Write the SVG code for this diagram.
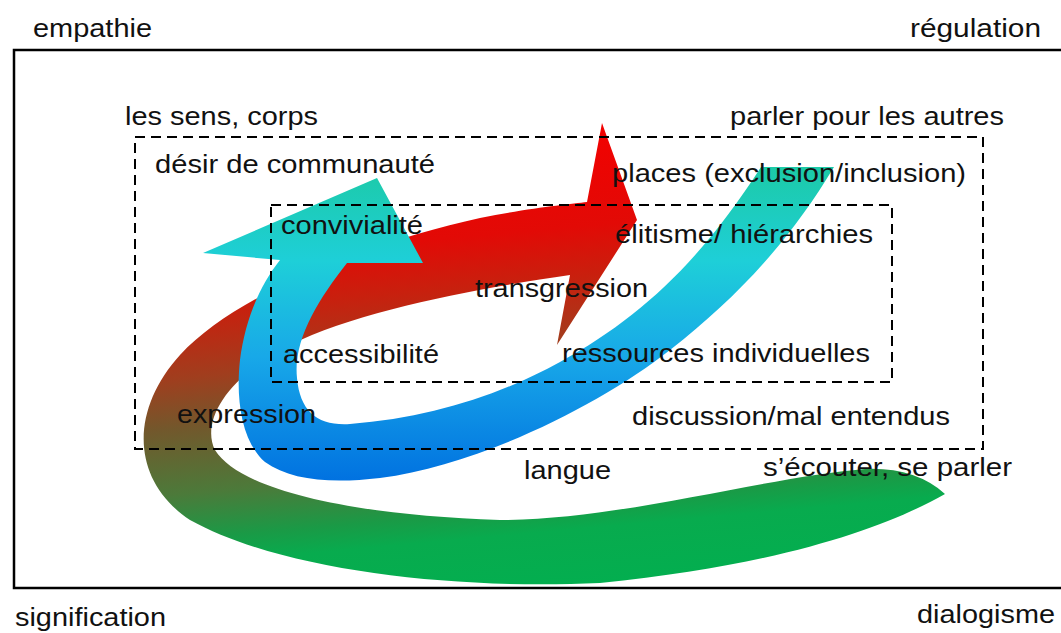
<svg xmlns="http://www.w3.org/2000/svg" width="1061" height="633" viewBox="0 0 1061 633">
<style>
text{font-family:"Liberation Sans",Arial,sans-serif;font-size:25px;fill:#111}
.box{fill:none;stroke:#000;stroke-width:2;stroke-dasharray:10 6}
.frame{fill:none;stroke:#000;stroke-width:2.5}
</style>
<defs>
<linearGradient id="gRed" gradientUnits="userSpaceOnUse" x1="530" y1="120" x2="575" y2="620">
<stop offset="0" stop-color="#f40000"/>
<stop offset="0.22" stop-color="#e20a06"/>
<stop offset="0.32" stop-color="#c8200e"/>
<stop offset="0.45" stop-color="#a03e1e"/>
<stop offset="0.55" stop-color="#72582c"/>
<stop offset="0.68" stop-color="#4c7a3a"/>
<stop offset="0.77" stop-color="#1a9a46"/>
<stop offset="0.82" stop-color="#08ab4e"/>
<stop offset="1" stop-color="#00b050"/>
</linearGradient>
<linearGradient id="gBlue" gradientUnits="userSpaceOnUse" x1="0" y1="165" x2="0" y2="485">
<stop offset="0" stop-color="#1ccaa6"/>
<stop offset="0.3" stop-color="#1ecfd8"/>
<stop offset="0.6" stop-color="#18a8e8"/>
<stop offset="1" stop-color="#0070e0"/>
</linearGradient>
</defs>
<rect id="frame" class="frame" x="14" y="50" width="1060" height="538"/>
<g id="connectors">
<path id="arrow-red-green" fill="url(#gRed)" d="M587,202 L602,123 L637,220 L557,345 L570,275 C480,288 360,310 290,345 C230,375 200,420 215,450 C240,490 350,515 500,520 C620,520 760,478 865,469 Q915,467 945,494 C885,528 780,565 600,583 C450,590 280,570 190,520 C130,480 130,410 180,355 C240,290 380,240 480,218 C530,208 570,204 587,202 Z"/>
<path id="arrow-blue" fill="url(#gBlue)" d="M280,260 L203,253 L377,178 L423,263 L347,263 C318,300 293,340 297,378 C300,412 318,426 350,424 C430,418 500,395 560,362 C640,318 700,262 761,167 L834,167 C790,240 740,295 670,350 C600,405 480,465 380,478 C330,484 290,480 265,462 C240,440 236,395 240,360 C245,320 260,285 280,260 Z"/>
</g>
<g id="zones">
<rect id="zone-outer" class="box" x="135" y="137" width="848" height="312"/>
<rect id="zone-inner" class="box" x="271" y="205" width="621" height="177"/>
</g>
<g id="corner-labels">
<text id="t-empathie" x="33" y="37" textLength="119" lengthAdjust="spacingAndGlyphs">empathie</text>
<text id="t-regulation" x="910" y="37" textLength="131" lengthAdjust="spacingAndGlyphs">régulation</text>
<text id="t-signification" x="15" y="626" textLength="151" lengthAdjust="spacingAndGlyphs">signification</text>
<text id="t-dialogisme" x="917" y="623" textLength="138" lengthAdjust="spacingAndGlyphs">dialogisme</text>
</g>
<g id="labels">
<text id="t-sens" x="125" y="125" textLength="193" lengthAdjust="spacingAndGlyphs">les sens, corps</text>
<text id="t-parler-autres" x="730" y="125" textLength="274" lengthAdjust="spacingAndGlyphs">parler pour les autres</text>
<text id="t-desir" x="155" y="173" textLength="280" lengthAdjust="spacingAndGlyphs">désir de communauté</text>
<text id="t-places" x="612" y="182" textLength="354" lengthAdjust="spacingAndGlyphs">places (exclusion/inclusion)</text>
<text id="t-convivialite" x="281" y="234" textLength="142" lengthAdjust="spacingAndGlyphs">convivialité</text>
<text id="t-elitisme" x="615" y="243" textLength="258" lengthAdjust="spacingAndGlyphs">élitisme/ hiérarchies</text>
<text id="t-transgression" x="475" y="297" textLength="173" lengthAdjust="spacingAndGlyphs">transgression</text>
<text id="t-accessibilite" x="283" y="363" textLength="156" lengthAdjust="spacingAndGlyphs">accessibilité</text>
<text id="t-ressources" x="562" y="362" textLength="308" lengthAdjust="spacingAndGlyphs">ressources individuelles</text>
<text id="t-expression" x="177" y="423" textLength="139" lengthAdjust="spacingAndGlyphs">expression</text>
<text id="t-discussion" x="632" y="425" textLength="318" lengthAdjust="spacingAndGlyphs">discussion/mal entendus</text>
<text id="t-langue" x="524" y="479" textLength="87" lengthAdjust="spacingAndGlyphs">langue</text>
<text id="t-ecouter" x="763" y="476" textLength="249" lengthAdjust="spacingAndGlyphs">s’écouter, se parler</text>
</g>
</svg>
